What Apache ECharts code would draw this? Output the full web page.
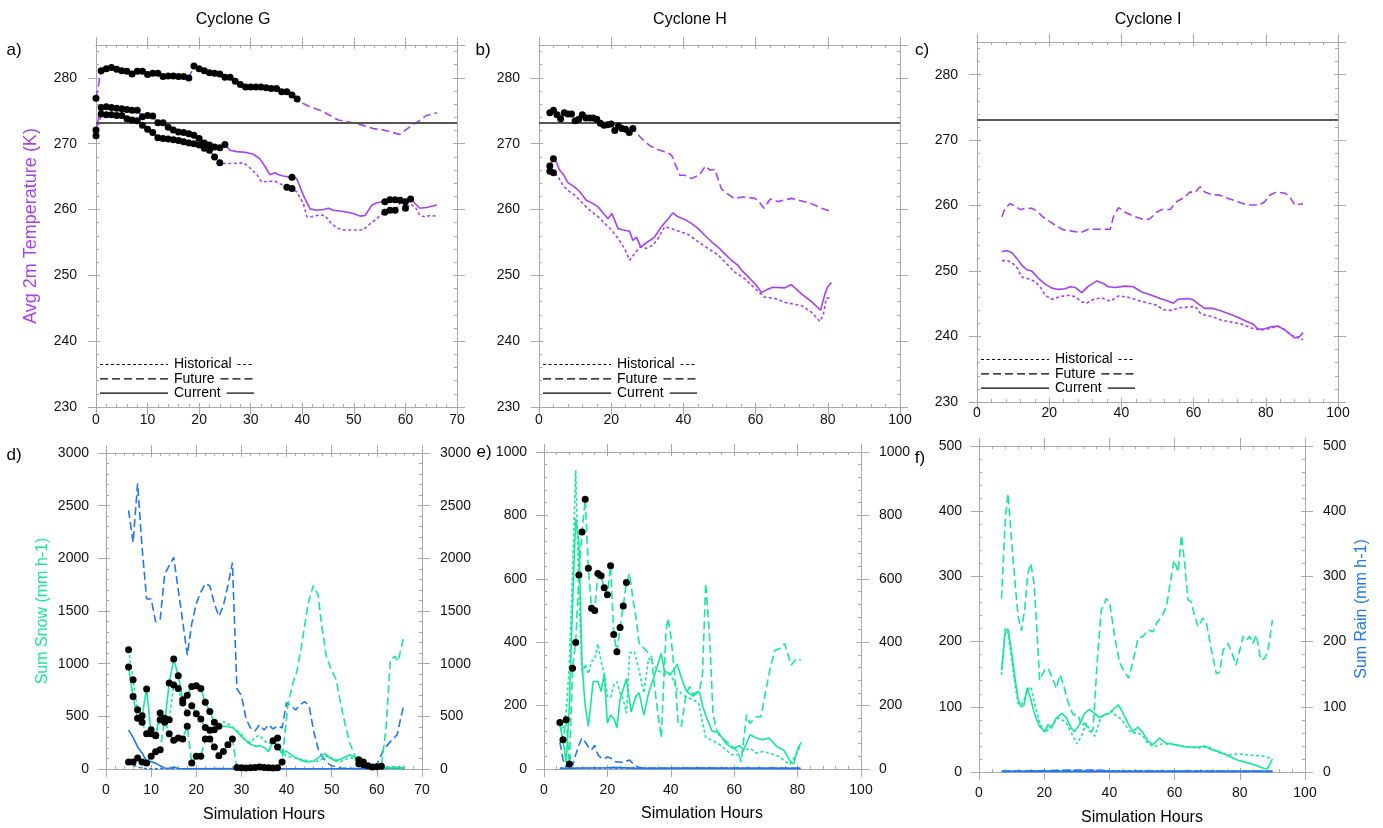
<!DOCTYPE html>
<html>
<head lang="en">
    <meta charset="UTF-8">
    <title>Cyclone G / H / I</title>
    <style>
        html, body { margin: 0; padding: 0; background: #fff; }
        #chart { width: 1383px; height: 828px; }
    </style>
</head>
<body>
<div id="chart"></div>
<script src="https://cdn.jsdelivr.net/npm/echarts/dist/echarts.min.js"></script>
<script>
// ---- Cyclone G : avg 2m temperature (K), [hour, value]
var gFuture = [[0,276.9],[1,281.1],[2,281.4],[3,281.6],[4,281.3],[5,281.1],[6,281.0],[7,280.6],[8,281.0],[9,281.0],[10,280.5],[11,280.7],[12,280.7],[13,280.2],[14,280.3],[15,280.3],[16,280.2],[17,280.2],[18,280.0],[19,281.8],[20,281.4],[21,281.1],[22,280.8],[23,280.7],[24,280.6],[25,280.1],[26,280.1],[27,279.5],[28,279.0],[29,278.6],[30,278.6],[31,278.6],[32,278.6],[33,278.5],[34,278.4],[35,278.4],[36,277.9],[37,277.9],[38,277.4],[39,276.8],[40.2,276.1],[41.5,275.6],[43.4,275.1],[45.4,274.3],[47,273.6],[50.5,273.1],[53.8,272.3],[55.7,272.1],[58.9,271.4],[60.9,272.6],[62.5,273.4],[64.1,274.3],[66.1,274.7]];
var gCurrent = [[0,272.1],[1,275.5],[2,275.6],[3,275.5],[4,275.4],[5,275.3],[6,275.2],[7,275.1],[8,275.1],[9,274.1],[10,274.3],[11,274.2],[12,273.2],[13,273.2],[14,272.5],[15,272.1],[16,271.8],[17,271.7],[18,271.5],[19,271.3],[20,270.8],[21,270.1],[22,269.8],[23,269.5],[24,269.4],[25,269.9],[26,269.0],[27.3,268.8],[28.9,268.7],[30.5,268.4],[31.8,267.7],[32.8,266.5],[33.7,265.3],[34.7,265.6],[35.4,265.3],[36.3,265.1],[37,265.0],[38,264.9],[38.9,264.7],[40.2,262.2],[41.5,260.1],[42.8,259.9],[44.1,260.0],[45.1,260.2],[46,259.9],[48,259.7],[49.9,259.4],[51.2,259.0],[52.2,259.1],[53.5,260.7],[54.4,261.0],[55,261.1],[56,261.2],[57,261.5],[58,261.5],[59,261.4],[60,261.2],[61,261.6],[62.8,260.2],[64.1,260.3],[66.1,260.7]];
var gHistorical = [[0,271.2],[1,274.5],[2,274.4],[3,274.4],[4,274.3],[5,274.3],[6,273.8],[7,273.6],[8,273.5],[9,272.8],[10,272.2],[11,271.7],[12,270.9],[13,270.8],[14,270.7],[15,270.6],[16,270.5],[17,270.3],[18,270.1],[19,270.0],[20,269.8],[21,269.3],[22,269.0],[23,268.0],[24,267.1],[24.7,267.0],[26.6,267.0],[28.6,267.1],[29.9,266.3],[31.2,265.3],[32.1,264.2],[33.7,264.3],[34.7,264.3],[36,263.8],[37,263.4],[38,263.2],[38.9,262.7],[40.2,260.9],[40.9,258.9],[41.8,258.9],[43.4,259.2],[44.4,259.1],[45.4,258.1],[46.7,257.2],[48,256.9],[49.9,256.9],[51.8,256.9],[52.8,257.6],[54.1,258.4],[55.1,259.1],[56,259.6],[57,259.9],[58,259.9],[59,261.0],[60,260.2],[61,260.8],[61.9,260.4],[62.8,259.1],[63.8,258.9],[64.8,259.1],[66.1,259.0]];
var gFutureDots = [[0,39]];
var gCurrentDots = [[0,25],[38,38],[56,61]];
var gHistoricalDots = [[0,24],[37,38],[56,58],[60,60]];

// ---- Cyclone H
var hFuture = [[3,274.7],[4,275.1],[5,274.4],[6,273.8],[7,274.7],[8,274.5],[9,274.5],[10,273.5],[11,273.7],[12,274.4],[13,273.9],[14,273.9],[15,273.9],[16,273.7],[17,273.1],[18,272.8],[19,272.9],[20,273.0],[21,272.0],[22,272.7],[23,272.3],[24,272.2],[25,271.7],[26,272.3],[28.4,270.8],[30.7,269.7],[33.4,269.0],[35.3,268.7],[36.7,268.3],[39,265.2],[40.4,265.2],[42.2,264.7],[44.5,265.3],[46.1,266.6],[47.3,266.0],[48.7,266.1],[50.5,263.2],[51.4,262.7],[54,261.7],[56.5,261.9],[59.8,261.7],[61.1,261.1],[62.3,260.2],[64.1,261.6],[66.2,261.2],[69.9,261.7],[72.7,261.3],[75.5,260.9],[78.2,260.2],[80.5,259.8]];
var hCurrent = [[3,266.6],[4,267.7],[4.8,267.2],[5.7,266.0],[6.9,265.2],[8,264.1],[9.9,263.4],[11.3,262.7],[13.1,261.4],[15,260.9],[16.4,260.4],[17.7,259.5],[19.1,258.6],[20.2,259.4],[21.9,257.1],[23.3,256.9],[25.1,256.7],[26,255.3],[27,255.8],[28.2,254.3],[29.3,254.8],[30.7,255.3],[32,255.8],[33.9,257.4],[35.8,258.6],[37.1,259.5],[38.5,258.9],[40.4,258.5],[42.2,257.9],[44.1,257.1],[45.9,256.1],[47.8,255.1],[49.6,254.3],[51.4,253.3],[53.3,252.3],[55.1,251.5],[56.1,250.8],[57.9,249.8],[60.2,248.5],[61.6,247.4],[63,247.8],[64.8,248.2],[68.1,248.1],[69.9,248.6],[72.7,247.2],[75.5,246.0],[78,244.7],[79.1,247.0],[79.9,248.2],[81,248.9]];
var hHistorical = [[3,265.8],[4,265.6],[5.3,265.0],[6.6,263.7],[8,262.9],[9.9,262.2],[12.2,260.9],[14,259.9],[16.4,258.9],[18.2,257.9],[20.1,256.9],[21.9,255.6],[23.7,254.1],[25.1,252.3],[26.5,253.3],[27.9,254.3],[29.7,254.1],[31.6,254.6],[33,255.6],[34.8,257.4],[36.7,257.1],[39.4,256.6],[41.7,256.1],[44.1,255.1],[46.8,254.1],[49.6,253.1],[51.9,251.8],[54.2,250.5],[57,249.5],[59.8,248.0],[62.5,246.7],[65.3,246.5],[68.1,245.9],[70.8,245.6],[72.7,245.4],[75.5,244.4],[77.8,243.0],[78.7,243.9],[79.6,246.5],[81,246.6]];
var hFutureDots = [[3,26]];
var hCurrentDots = [[3,4]];
var hHistoricalDots = [[3,4]];

// ---- Cyclone I
var iFuture = [[6.9,258.3],[7.8,259.6],[9.2,260.3],[10.6,259.9],[12,259.4],[13.4,259.6],[15.2,259.6],[16.6,259.2],[18,258.4],[19.8,257.7],[21.7,257.0],[24,256.3],[26.3,256.1],[28.8,255.9],[30.9,256.4],[33.6,256.4],[36.9,256.4],[37.8,258.3],[39.2,259.7],[41,259.0],[43.8,258.3],[46.5,257.8],[47.9,258.0],[49.8,259.0],[51.2,259.4],[53.5,259.4],[55.3,260.6],[57.6,261.3],[59,262.1],[60.4,262.0],[61.8,262.9],[63.1,262.1],[65,261.7],[67.3,261.6],[69.6,261.1],[72.3,260.6],[74.2,260.2],[76.1,260.1],[78.3,260.1],[79.7,260.6],[81.1,261.6],[83,262.1],[85.3,261.9],[86.6,261.4],[88,260.1],[89.4,260.2],[90.3,260.3]];
var iCurrent = [[6.9,253.0],[8.3,253.1],[9.7,252.8],[11.1,251.9],[12.4,250.9],[13.8,250.2],[15.2,250.0],[17,248.9],[18.9,248.0],[20.7,247.4],[22.6,247.2],[24.4,247.3],[25.8,247.6],[27.2,247.5],[29,246.7],[30.9,247.7],[33.2,248.5],[35,248.1],[36.4,247.6],[38.2,247.5],[41,247.7],[43.3,247.6],[45.6,246.8],[48.4,246.3],[50.7,245.8],[52.5,245.5],[54.4,245.1],[55.8,245.7],[58.5,245.8],[59.9,245.6],[61.3,245.0],[63.1,244.3],[65.4,244.3],[67.7,243.9],[70.1,243.4],[72.4,242.9],[74.7,242.3],[76.5,241.9],[77.9,241.1],[79.7,241.2],[81.6,241.5],[83.4,241.6],[85.3,241.0],[86.6,240.4],[88,239.8],[89.4,240.0],[90.3,240.6]];
var iHistorical = [[6.9,251.6],[8.3,251.6],[9.7,251.3],[11.1,250.5],[12.4,249.1],[14.3,248.8],[16.1,248.4],[17.5,247.6],[18.9,246.3],[20.7,245.7],[23,246.1],[25.3,246.3],[27.2,246.1],[29,245.3],[30.4,245.1],[32.3,245.7],[34.6,245.9],[36.9,245.4],[39.2,246.2],[41.9,246.0],[44.7,245.5],[47.5,245.1],[49.8,244.8],[51.6,244.1],[53.9,244.0],[56.2,244.4],[58.5,244.5],[60.4,244.6],[61.8,243.6],[63.1,243.3],[65.4,243.0],[67.7,242.5],[70.5,242.2],[73.3,241.9],[76.1,241.3],[78.8,241.0],[81.6,241.3],[83.4,241.6],[85.3,241.0],[87.1,240.2],[88.9,239.8],[90.3,239.5]];

// ---- Cyclone G : summed snow / rain (mm h-1)
var gSnowFuture = [[5,66],[6,66],[7,104],[8,66],[9,57],[10,120],[11,164],[12,183],[13,470],[14,335],[15,272],[16,294],[17,285],[18,405],[19,57],[20,120],[21,120],[22,285],[23,285],[24,209],[25,126],[26,167],[27,231],[28,285],[29,15],[30,12],[31,10],[32,12],[33,15],[34,20],[35,15],[36,12],[37,10],[38,12],[39,66],[40.3,611],[41.5,832],[42.2,911],[43.3,1165],[44.8,1576],[45.9,1741],[47,1655],[47.7,1386],[48.8,1070],[49.9,943],[51,848],[51.8,658],[52.9,437],[54,247],[55.5,89],[56,51],[57,40],[58,30],[59,20],[60,22],[61,25],[62,370],[63,1038],[64,1070],[64.7,1022],[66,1259]];
var gSnowCurrent = [[5,968],[6,689],[7,481],[8,506],[9,760],[10,335],[11,316],[12,532],[13,443],[14,816],[15,1044],[16,886],[17,658],[18,699],[19,784],[20,791],[21,765],[22,633],[23,547],[24,443],[25,405],[26.7,405],[28.2,389],[30,310],[31.5,247],[33,215],[34.1,222],[35.2,199],[36,165],[37,269],[38,209],[38.9,152],[40,168],[41.5,120],[42.9,89],[44.4,66],[45.9,73],[47.4,120],[48.5,146],[49.6,104],[51,73],[52.5,104],[54,136],[55.1,111],[56,40],[58,20],[60,12],[62,10],[66,10]];
var gSnowHistorical = [[5,1133],[6,848],[7,563],[8,443],[9,335],[10,373],[11,320],[12,468],[13,481],[14,468],[15,797],[16,765],[17,627],[18,532],[19,601],[20,525],[21,475],[22,395],[23,367],[24,373],[25,405],[26,450],[27,430],[28,400],[30,330],[31,270],[32,250],[33,300],[34,320],[35,270],[36,240],[37,260],[38,294],[39,170],[40,120],[42,105],[44,85],[46,70],[47,75],[48,95],[49,125],[50,105],[52,70],[54,110],[55,95],[56,88],[57,66],[58,30],[60,20],[62,20],[64,22],[66,25]];
var gRainFuture = [[5,2456],[6,2150],[7,2709],[8,2100],[9,1614],[10,1614],[11,1398],[12,1417],[13,1850],[14,1930],[15,2010],[16,1700],[17,1400],[18,1081],[19,1380],[20,1570],[21,1680],[22,1760],[23,1740],[24,1570],[25,1450],[26,1550],[27,1740],[28,1960],[29,760],[30,700],[31,480],[32,390],[33,360],[34,420],[35,370],[36,420],[37,380],[38,410],[39,390],[40,630],[41,600],[42,560],[43,610],[44,640],[45,600],[46,360],[47,190],[48,110],[49,60],[50,30],[52,10],[55,5],[59,5],[60,41],[61.5,184],[63,260],[64.5,326],[66,620]];
var gRainCurrent = [[5,372],[6,300],[7,210],[8,150],[9,75],[10,70],[11,55],[12,30],[13,10],[14,5],[15,20],[16,5],[18,3],[25,5],[30,3],[40,3],[50,3],[56,3],[60,5],[66,10]];
var gRainHistorical = [[5,60],[6,40],[7,20],[8,8],[9,3],[12,2],[20,3],[30,2],[40,2],[50,3],[60,3],[66,5]];
var gSnowFutureDots = [[5,39],[56,61]];
var gSnowCurrentDots = [[5,25],[37,38]];
var gSnowHistoricalDots = [[5,24],[38,38],[56,57]];

// ---- Cyclone H : snow / rain
var hSnowFuture = [[5,147],[6,92],[7,155],[8,16],[9,318],[10,399],[11,612],[12,748],[13,851],[14,633],[15,507],[16,500],[17,617],[18,610],[19,572],[20,550],[21,641],[22,424],[23,370],[24,446],[25,514],[26,588],[27,617],[28,540],[29,480],[30,397],[32,376],[33.9,355],[35,250],[36,170],[37,98],[38.5,439],[39.1,475],[40,420],[41.2,302],[42.3,145],[43.3,134],[44.9,239],[46,260],[47,234],[49.1,250],[50,300],[51,586],[52.3,407],[53.3,176],[54.4,124],[55.4,103],[57.5,87],[59.6,70],[61.2,54],[62.2,22],[63.9,171],[64.9,144],[67,165],[68.5,165],[69.6,228],[71.2,311],[72.8,374],[74.4,380],[75.9,396],[78,328],[79.6,349],[81,343]];
var hSnowCurrent = [[5,140],[6,90],[7,20],[8,200],[9,520],[10,790],[11,720],[12,330],[13,200],[14,134],[15.5,276],[17,276],[18,245],[19,300],[20,145],[21,170],[22,160],[23,130],[24,220],[26,285],[27.5,180],[29,230],[30,240],[31.5,170],[33,240],[35,300],[37,365],[38,308],[40,300],[42,330],[43.9,271],[45,245],[47,230],[49,245],[50,200],[51,170],[53,120],[55,115],[57.5,80],[59.6,64],[61.7,74],[63,60],[65,108],[67,98],[69,92],[71,98],[73.5,70],[75.6,60],[77.7,24],[78.7,16],[80.3,70],[81.2,84]];
var hSnowHistorical = [[5,147],[6,130],[7,180],[8,330],[9,620],[10,942],[11,560],[12,300],[13,330],[14,300],[15,340],[16,345],[17,395],[18,340],[19,300],[20,230],[21,225],[22,265],[23,275],[24,240],[25,220],[26,176],[27,366],[28.5,370],[30,310],[31.5,240],[33,350],[34.5,330],[36,310],[38,300],[40,297],[42,250],[44.4,230],[46.6,220],[48.7,210],[51,100],[53,90],[55,80],[57.5,60],[59,45],[61,45],[63.5,60],[65,65],[67,50],[69,55],[71,50],[74,40],[76,25],[77.7,15],[80,55],[81,75]];
var hRainFuture = [[5,85],[6,30],[7,5],[8,45],[9,10],[10,45],[11,75],[12,98],[13,85],[14,70],[15,60],[16,75],[17,45],[18,35],[19,32],[20,38],[21,35],[22,25],[23,22],[24,22],[25,20],[26,25],[27,28],[28,18],[29,10],[30,5],[32,2],[40,2],[50,3],[60,2],[70,2],[81,2]];
var hRainCurrent = [[5,2],[20,4],[22,5],[30,2],[50,3],[81,2]];
var hRainHistorical = [[5,2],[20,3],[40,2],[60,2],[81,2]];
var hSnowFutureDots = [[5,26]];

// ---- Cyclone I : snow / rain
var iSnowFuture = [[6.9,266],[8.1,391],[8.9,427],[9.9,361],[11,294],[12,238],[13,217],[14,248],[15,305],[15.9,320],[16.9,289],[17.6,233],[18.6,141],[20.2,157],[21.2,159],[22.4,146],[23.7,128],[24.8,149],[25.8,136],[26.8,116],[27.8,100],[28.9,88],[30.4,88],[31.4,70],[32.4,75],[33.9,62],[35,65],[36.3,172],[37.5,248],[39.1,266],[40.1,259],[41.6,208],[43.2,167],[44.2,157],[45.9,144],[47.2,169],[48.8,205],[50.3,208],[51.9,218],[53.4,215],[54.4,228],[56,238],[57.5,254],[58.5,284],[59.8,325],[61.1,307],[62.1,363],[63.1,320],[64.1,264],[65.1,261],[66.2,238],[67.2,223],[68.7,236],[69.8,228],[71.3,187],[72.8,151],[73.8,153],[74.9,187],[76.4,197],[77.4,185],[78.9,164],[79.9,185],[81,208],[82,202],[83,208],[84,197],[85.1,210],[86.4,172],[87.6,174],[88.6,185],[90,233]];
var iSnowCurrent = [[6.9,156],[8.1,218],[8.9,219],[9.9,187],[11,146],[12,111],[13,100],[13.8,103],[14.8,129],[15.9,111],[17.1,88],[18.6,70],[20.2,62],[21.2,73],[22.2,67],[23.7,83],[25.5,90],[26.8,83],[28.3,67],[29.3,62],[30.9,73],[32.4,90],[33.9,96],[35.5,90],[37,83],[38.5,88],[40.1,90],[41.6,98],[42.8,103],[44.2,90],[45.7,75],[47.2,62],[48.8,69],[50.3,60],[51.9,47],[53.4,42],[55.4,52],[57.5,44],[60,42],[62.1,40],[64.6,38],[67.2,38],[69.2,40],[71.3,34],[73.3,32],[76.4,25],[79.5,18],[82.5,14],[85.1,10],[87.6,5],[88.6,6],[90,20]];
var iSnowHistorical = [[6.9,149],[8.1,220],[8.9,213],[9.9,177],[11,136],[12,105],[13,103],[13.8,111],[14.8,126],[15.9,131],[17.1,105],[18.6,75],[20.2,60],[21.2,65],[22.7,73],[24.3,83],[25.5,80],[26.8,75],[28.3,60],[30.1,43],[31.4,55],[32.9,75],[33.9,65],[35.5,55],[37.5,85],[39.1,88],[40.6,94],[42.1,86],[43.7,81],[45.2,70],[46.7,60],[48.8,60],[50.3,55],[51.9,43],[53.9,39],[56,43],[58,43],[60,42],[62.1,39],[65.1,38],[67.2,37],[70.3,39],[73.3,30],[76.4,26],[79.5,28],[82.5,26],[86.6,25],[89.7,21]];
var iRainFuture = [[7,1],[30,3],[37,3],[40,1],[90,1]];
var iRainCurrent = [[7,1],[90,1]];
var iRainHistorical = [[7,1],[33,2],[90,1]];

var FREEZING = 273.15;
var titles = ['Cyclone G', 'Cyclone H', 'Cyclone I'];
var panelTags = ['a)', 'b)', 'c)', 'd)', 'e)', 'f)'];
var legendNames = ['Historical', 'Future', 'Current'];

var FONT = '"Liberation Sans", Arial, Helvetica, sans-serif';
var PURPLE = '#a83ff5', GREEN = '#12e99b', BLUE = '#1f78f2', FRAME = '#a9a9a9';
var DOTTED = [3, 2.5], DASHED = [8, 4];

// panel boxes [left, top, width, height], axes [min, max, interval]
var panels = [
    {box: [96, 45, 361, 362],   x: [0, 70, 10],  y: [230, 285, 10], right: false, xm: 6},
    {box: [539, 45, 361, 362],  x: [0, 100, 20], y: [230, 285, 10], right: false, xm: 6},
    {box: [977, 42, 361, 360],  x: [0, 100, 20], y: [230, 285, 10], right: false, xm: 4},
    {box: [106, 453, 316, 316], x: [0, 70, 10],  y: [0, 3000, 500], right: true,  xm: 14},
    {box: [544, 452, 317, 317], x: [0, 100, 20], y: [0, 1000, 200], right: true,  xm: 14},
    {box: [979, 446, 326, 326], x: [0, 100, 20], y: [0, 500, 100],  right: true,  xm: 14}
];

var grids = [], xAxes = [], yAxes = [], series = [], graphics = [];

function axis(gi, pos, r, labeled, inner, margin) {
    return {
        type: 'value', gridIndex: gi, position: pos, min: r[0], max: r[1], interval: r[2],
        axisLine: {show: true, onZero: false, lineStyle: {color: FRAME, width: 1}},
        axisTick: {show: true, inside: inner, length: inner ? 4 : 8, lineStyle: {color: FRAME}},
        minorTick: {show: inner, splitNumber: 5, length: 3, lineStyle: {color: FRAME}},
        splitLine: {show: false},
        axisLabel: {show: labeled, margin: margin, color: '#111', fontFamily: FONT, fontSize: 14,
            showMaxLabel: (r[1] - r[0]) % r[2] === 0, hideOverlap: false,
            formatter: function (v) { return String(v); }},
        axisPointer: {show: false}
    };
}

panels.forEach(function (p, i) {
    grids.push({left: p.box[0], top: p.box[1], width: p.box[2], height: p.box[3]});
    xAxes.push(axis(i, 'bottom', p.x, true, false, p.xm));
    xAxes.push(axis(i, 'bottom', p.x, false, true));
    xAxes.push(axis(i, 'top', p.x, false, false));
    xAxes.push(axis(i, 'top', p.x, false, true));
    var lm = i < 3 ? 19 : 17;
    yAxes.push(axis(i, 'left', p.y, true, false, lm));
    yAxes.push(axis(i, 'left', p.y, false, true));
    yAxes.push(axis(i, 'right', p.y, p.right, false, 18));
    yAxes.push(axis(i, 'right', p.y, false, true));
});

function line(gi, data, color, dash, z) {
    return {
        type: 'line', xAxisIndex: gi * 4, yAxisIndex: gi * 4, data: data,
        symbol: 'none', showSymbol: false, silent: true, z: z || 3,
        lineStyle: {color: color, width: 1.6, type: dash || 'solid'}
    };
}

function inRanges(h, ranges) {
    if (h !== Math.round(h)) return false;
    return ranges.some(function (r) { return h >= r[0] && h <= r[1]; });
}

function dots(gi, data, ranges) {
    return {
        type: 'scatter', xAxisIndex: gi * 4, yAxisIndex: gi * 4, silent: true, z: 6,
        symbol: 'circle', symbolSize: 7, itemStyle: {color: '#000', opacity: 1},
        data: data.filter(function (p) { return inRanges(p[0], ranges); })
    };
}

function freezeLine(gi) {
    var s = line(gi, [], '#000');
    s.markLine = {silent: true, symbol: 'none', label: {show: false},
        lineStyle: {color: '#555', width: 1.8, type: 'solid'}, data: [{yAxis: FREEZING}]};
    return s;
}

// temperature panels
[[gHistorical, gFuture, gCurrent], [hHistorical, hFuture, hCurrent], [iHistorical, iFuture, iCurrent]]
    .forEach(function (set, gi) {
        series.push(freezeLine(gi));
        series.push(line(gi, set[0], PURPLE, DOTTED));
        series.push(line(gi, set[1], PURPLE, DASHED));
        series.push(line(gi, set[2], PURPLE));
    });
series.push(dots(0, gFuture, gFutureDots), dots(0, gCurrent, gCurrentDots), dots(0, gHistorical, gHistoricalDots));
series.push(dots(1, hFuture, hFutureDots), dots(1, hCurrent, hCurrentDots), dots(1, hHistorical, hHistoricalDots));

// precipitation panels
[[gRainHistorical, gRainFuture, gRainCurrent, gSnowHistorical, gSnowFuture, gSnowCurrent],
 [hRainHistorical, hRainFuture, hRainCurrent, hSnowHistorical, hSnowFuture, hSnowCurrent],
 [iRainHistorical, iRainFuture, iRainCurrent, iSnowHistorical, iSnowFuture, iSnowCurrent]]
    .forEach(function (set, k) {
        var gi = k + 3;
        series.push(line(gi, set[0], BLUE, DOTTED));
        series.push(line(gi, set[1], BLUE, DASHED));
        series.push(line(gi, set[2], BLUE));
        series.push(line(gi, set[3], GREEN, DOTTED, 4));
        series.push(line(gi, set[4], GREEN, DASHED, 4));
        series.push(line(gi, set[5], GREEN, null, 4));
    });
series.push(dots(3, gSnowFuture, gSnowFutureDots), dots(3, gSnowCurrent, gSnowCurrentDots), dots(3, gSnowHistorical, gSnowHistoricalDots));
series.push(dots(4, hSnowFuture, hSnowFutureDots));

// text
function text(x, y, s, size, color, rot, align) {
    graphics.push({
        type: 'text', x: x, y: y, rotation: rot || 0, silent: true,
        style: {text: s, fill: color || '#000', font: size + 'px ' + FONT,
            textAlign: align || 'center', textVerticalAlign: 'middle'}
    });
}
text(233, 20, titles[0], 16);
text(690, 20, titles[1], 16);
text(1148, 20, titles[2], 16);
text(14, 50, panelTags[0], 17);
text(483, 50, panelTags[1], 17);
text(922, 50, panelTags[2], 17);
text(14, 455, panelTags[3], 17);
text(484, 452, panelTags[4], 17);
text(920, 458, panelTags[5], 17);
text(31, 226, 'Avg 2m Temperature (K)', 18, PURPLE, Math.PI / 2);
text(43, 611, 'Sum Snow (mm h-1)', 16, GREEN, Math.PI / 2);
text(1362, 609, 'Sum Rain (mm h-1)', 16, BLUE, Math.PI / 2);
text(264, 815, 'Simulation Hours', 16);
text(702, 814, 'Simulation Hours', 16);
text(1142, 818, 'Simulation Hours', 16);

// legend (line - label - short line), top panels
var ctx = document.createElement('canvas').getContext('2d');
ctx.font = '14px ' + FONT;
var legendDash = [DOTTED, DASHED, null];
function seg(x1, x2, y, dash) {
    graphics.push({type: 'line', silent: true, shape: {x1: x1, y1: y, x2: x2, y2: y},
        style: {stroke: '#000', lineWidth: 1.2, lineDash: dash}});
}
[0, 1, 2].forEach(function (pi) {
    var L = panels[pi].box[0], B = panels[pi].box[1] + panels[pi].box[3];
    legendNames.forEach(function (name, k) {
        var y = B - 42.5 + k * 14.3;
        seg(L + 4, L + 72, y, legendDash[k]);
        text(L + 78, y, name, 14, '#000', 0, 'left');
        seg(L + 78 + ctx.measureText(name).width + 6, L + 158, y, legendDash[k]);
    });
});

var chart = echarts.init(document.getElementById('chart'));
chart.setOption({
    animation: false,
    backgroundColor: '#fff',
    grid: grids,
    xAxis: xAxes,
    yAxis: yAxes,
    series: series,
    graphic: graphics
});
</script>
</body>
</html>
